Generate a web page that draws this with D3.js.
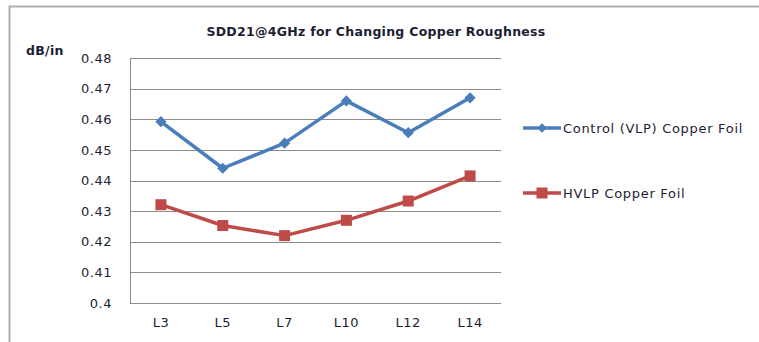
<!DOCTYPE html>
<html>
<head>
<meta charset="utf-8">
<script src="https://cdn.jsdelivr.net/npm/d3@7/dist/d3.min.js"></script>
<style>
  html, body { margin: 0; padding: 0; background: #fff; }
  svg { display: block; }
  text { font-family: "DejaVu Sans", Verdana, sans-serif; fill: #1d1d33; }
</style>
</head>
<body>
<svg id="chart" width="759" height="342"></svg>
<script>
// Layers measured on each stack-up
const categories = ["L3", "L5", "L7", "L10", "L12", "L14"];
const controlVLP = [0.4592, 0.4440, 0.4522, 0.4660, 0.4556, 0.4670];
const hvlp = [0.4321, 0.4253, 0.4220, 0.4270, 0.4333, 0.4415];
const yTicks = [0.4, 0.41, 0.42, 0.43, 0.44, 0.45, 0.46, 0.47, 0.48];
const seriesNames = ["Control (VLP) Copper Foil", "HVLP Copper Foil"];

const blue = "#4a7ebb", red = "#be4b48";

const svg = d3.select("#chart");

// outer chart frame (left and top edges)
svg.append("path")
  .attr("d", "M9.5,342 V6.5 H759")
  .attr("fill", "none").attr("stroke", "#b0b0b0").attr("stroke-width", 2);

const plot = { left: 130, right: 501, top: 58, bottom: 303 };

const x = d3.scaleBand().domain(categories).range([plot.left, plot.right]);
const y = d3.scaleLinear().domain([0.4, 0.48]).range([plot.bottom, plot.top]);

// horizontal gridlines
svg.append("g").selectAll("line").data(yTicks).join("line")
  .attr("x1", plot.left).attr("x2", plot.right)
  .attr("y1", d => Math.round(y(d)) + 0.5).attr("y2", d => Math.round(y(d)) + 0.5)
  .attr("stroke", "#8c8c8c").attr("stroke-width", 1);

// value axis line
svg.append("line")
  .attr("x1", plot.left + 0.5).attr("x2", plot.left + 0.5)
  .attr("y1", plot.top).attr("y2", plot.bottom + 0.5)
  .attr("stroke", "#8c8c8c");

const labelStyle = sel => sel.style("font-size", "13px").attr("fill", "#1d1d33")
  .style("letter-spacing", "0.5px")
  .style("font-family", '"DejaVu Sans", Verdana, sans-serif');

// y tick labels
const yAxis = d3.axisLeft(y).tickValues(yTicks).tickSize(0).tickPadding(18)
  .tickFormat(d => String(+d.toFixed(2)));
const gy = svg.append("g").attr("transform", `translate(${plot.left},0)`).call(yAxis);
gy.select(".domain").remove();
gy.selectAll("text").call(labelStyle);

// x category labels
const xAxis = d3.axisBottom(x).tickSize(0).tickPadding(15);
const gx = svg.append("g").attr("transform", `translate(0,${plot.bottom})`).call(xAxis);
gx.select(".domain").remove();
gx.selectAll("text").call(labelStyle);

const cx = d => x(d) + x.bandwidth() / 2;
const line = d3.line().x(d => cx(d.c)).y(d => y(d.v));

const blueData = categories.map((c, i) => ({ c, v: controlVLP[i] }));
const redData = categories.map((c, i) => ({ c, v: hvlp[i] }));

// HVLP series (squares)
svg.append("path").datum(redData).attr("d", line)
  .attr("fill", "none").attr("stroke", red).attr("stroke-width", 3.5)
  .attr("stroke-linejoin", "round");
svg.append("g").selectAll("rect").data(redData).join("rect")
  .attr("x", d => cx(d.c) - 5.5).attr("y", d => y(d.v) - 5.5)
  .attr("width", 11).attr("height", 11).attr("fill", red);

// Control series (diamonds)
svg.append("path").datum(blueData).attr("d", line)
  .attr("fill", "none").attr("stroke", blue).attr("stroke-width", 3.5)
  .attr("stroke-linejoin", "round");
const diamond = d3.symbol().type(d3.symbolDiamond2).size(80);
svg.append("g").selectAll("path").data(blueData).join("path")
  .attr("transform", d => `translate(${cx(d.c)},${y(d.v)})`)
  .attr("d", diamond).attr("fill", blue);

// title and unit
svg.append("text").attr("x", 376).attr("y", 36).attr("text-anchor", "middle")
  .style("font-size", "12.5px").style("font-weight", "bold")
  .style("letter-spacing", "0.28px")
  .text("SDD21@4GHz for Changing Copper Roughness");
svg.append("text").attr("x", 26).attr("y", 55)
  .style("font-size", "12.5px").style("font-weight", "bold")
  .style("letter-spacing", "0.3px").text("dB/in");

// legend
const legend = svg.append("g");
const legendY = [128, 193];
const legendColors = [blue, red];
seriesNames.forEach((name, i) => {
  const g = legend.append("g").attr("transform", `translate(0,${legendY[i]})`);
  g.append("line").attr("x1", 523).attr("x2", 561).attr("y1", 0).attr("y2", 0)
    .attr("stroke", legendColors[i]).attr("stroke-width", 3.5);
  if (i === 0) {
    g.append("path").attr("transform", "translate(542,0)")
      .attr("d", d3.symbol().type(d3.symbolDiamond2).size(60)).attr("fill", blue);
  } else {
    g.append("rect").attr("x", 536.5).attr("y", -5.5).attr("width", 11).attr("height", 11).attr("fill", red);
  }
  g.append("text").attr("x", 563).attr("y", 5).style("font-size", "13px")
    .style("letter-spacing", "0.7px").text(name);
});
</script>
</body>
</html>
